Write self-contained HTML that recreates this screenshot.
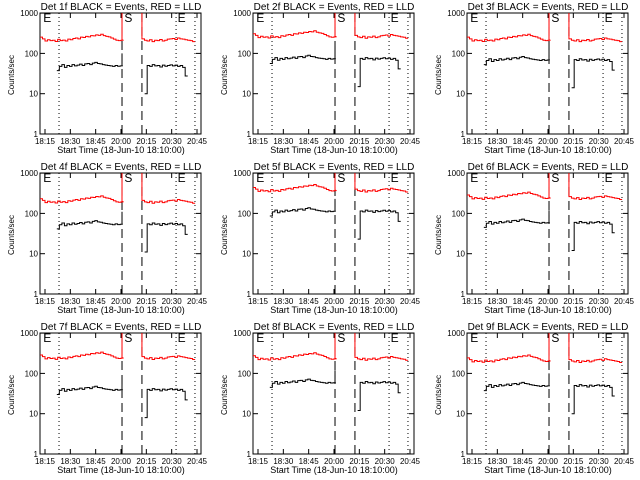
<!DOCTYPE html>
<html><head><meta charset="utf-8"><style>
html,body{margin:0;padding:0;background:#fff;}
svg{display:block;font-family:"Liberation Sans",sans-serif;}
</style></head><body>
<svg id="chart" width="640" height="480" viewBox="0 0 640 480"></svg>
<script>
const detectors = ["1f","2f","3f","4f","5f","6f","7f","8f","9f"];
const redLevels = [230,280,230,210,400,260,260,250,220];
const blackLevels = [50,75,70,55,115,60,40,60,50];
const tickLabels = ["18:15","18:30","18:45","20:00","20:15","20:30","20:45"];
const yTickValues = [1,10,100,1000];
const yTickLabels = ["1","10","100","1000"];
const redPre = [1.10,1.00,0.88,0.95,0.90,0.92,0.86,0.97,0.90,0.93,0.88,0.98,0.95,1.02,1.05,1.00,1.10,1.08,1.15,1.12,1.20,1.18,1.25,1.22,1.30,1.20,1.15,1.12,1.05,0.98,0.92,0.90,0.92];
const redPost = [1.00,0.92,0.88,0.95,0.85,0.92,0.90,0.96,0.88,0.92,0.98,1.00,1.02,0.96,1.05,1.00,0.98,0.95,0.92,0.90,0.85];
const blackPre = [0.75,0.95,1.05,0.90,1.00,0.95,1.05,0.98,1.02,1.08,1.00,1.10,1.12,1.05,1.15,1.20,1.12,1.10,1.05,1.02,1.00,0.98,0.95,1.00,0.96,0.98];
const blackPost = [0.20,1.00,0.95,1.05,0.98,1.00,0.92,1.02,0.96,1.00,1.04,0.98,1.02,0.95,1.00,0.90,0.55];
const dottedTimes = [8.3,77.6,88.8];
const dashedTimes = [45.6,57.4];

const NS="http://www.w3.org/2000/svg";
const svg=document.getElementById('chart');
function el(tag,attrs,parent){const e=document.createElementNS(NS,tag);for(const k in attrs)e.setAttribute(k,attrs[k]);(parent||svg).appendChild(e);return e;}

detectors.forEach((det,i)=>{
  const ox=[0,213,427][i%3], oy=[0,160,320][Math.floor(i/3)];
  const L=ox+40,R=ox+201,T=oy+13,B=oy+134;
  const xs=t=>ox+45+t*152/90;
  const ys=v=>B-40.3*Math.log10(v);
  const g=el('g',{});
  
  
  const cp=el('clipPath',{id:'c'+i},g);
  el('rect',{x:L,y:T,width:R-L,height:B-T},cp);
  const title=el('text',{x:ox+121,y:oy+10,'font-size':10,'text-anchor':'middle'},g);
  title.textContent='Det '+det+' BLACK = Events, RED = LLD';
  
  
  const frame=el('rect',{x:L,y:T,width:R-L,height:B-T,fill:'none',stroke:'#000','stroke-width':1},g);
  
  
  // y ticks
  yTickValues.forEach((v,k)=>{
    const y=ys(v);
    el('line',{x1:L,x2:L+5,y1:y,y2:y,stroke:'#000'},g);
    el('line',{x1:R,x2:R-5,y1:y,y2:y,stroke:'#000'},g);
    const tl=el('text',{x:L-2,y:y+3,'font-size':8,'text-anchor':'end'},g);
    tl.textContent=yTickLabels[k];
    
    
  });
  // x ticks
  tickLabels.forEach((lab,k)=>{
    const x=xs(k*15);
    el('line',{x1:x,x2:x,y1:B,y2:B-5,stroke:'#000'},g);
    el('line',{x1:x,x2:x,y1:T,y2:T+5,stroke:'#000'},g);
    const tl=el('text',{x:x,y:B+10,'font-size':8,'text-anchor':'middle'},g);
    tl.textContent=lab;
    
    
  });
  const xl=el('text',{x:ox+121,y:B+19,'font-size':9,'text-anchor':'middle'},g);
  xl.textContent='Start Time (18-Jun-10 18:10:00)';
  
  
  const yl=el('text',{x:0,y:0,'font-size':8,'text-anchor':'middle',transform:`translate(${ox+14},${oy+75}) rotate(-90)`},g);
  yl.textContent='Counts/sec';
  
  
  // markers
  dottedTimes.forEach(t=>{const l=el('line',{x1:xs(t),x2:xs(t),y1:T,y2:B,stroke:'#000','stroke-dasharray':'1,3'},g);
    });
  dashedTimes.forEach(t=>{const l=el('line',{x1:xs(t),x2:xs(t),y1:T,y2:B,stroke:'#000','stroke-dasharray':'9,5'},g);
    });
  [['E',xs(-1)],['S',xs(47)],['E',xs(78.5)]].forEach(([s,x])=>{
    const t=el('text',{x:x,y:T+9,'font-size':12},g);t.textContent=s;
    });
  // series
  const cg=el('g',{'clip-path':`url(#c${i})`},g);
  function step(arr,t0,lvl){let pts=[];arr.forEach((v,k)=>{const x1=xs(t0+k*1.5),x2=xs(t0+(k+1)*1.5);const y=ys(v*lvl);pts.push(x1+','+y,x2+','+y);});return pts;}
  const rl=redLevels[i], bl=blackLevels[i];
  let rp=step(redPre,-3,rl); rp.push(xs(45.6)+','+ys(rl*0.95), xs(45.6)+','+(T-5));
  let rq=[xs(57.4)+','+(T-5)].concat(step(redPost,57.4,rl));
  let bp=step(blackPre,7,bl); bp.push(xs(45.6)+','+ys(bl*1), xs(45.6)+','+ys(bl*2));
  let bq=step(blackPost,59,bl);
  const sr=[[rp,'red','red-series-pre'],[rq,'red','red-series-post'],[bp,'#000','black-series-pre'],[bq,'#000','black-series-post']];
  sr.forEach(([p,c,n])=>{const pl=el('polyline',{points:p.join(' '),fill:'none',stroke:c,'stroke-width':1},cg);
    });
});
</script>
</body></html>
